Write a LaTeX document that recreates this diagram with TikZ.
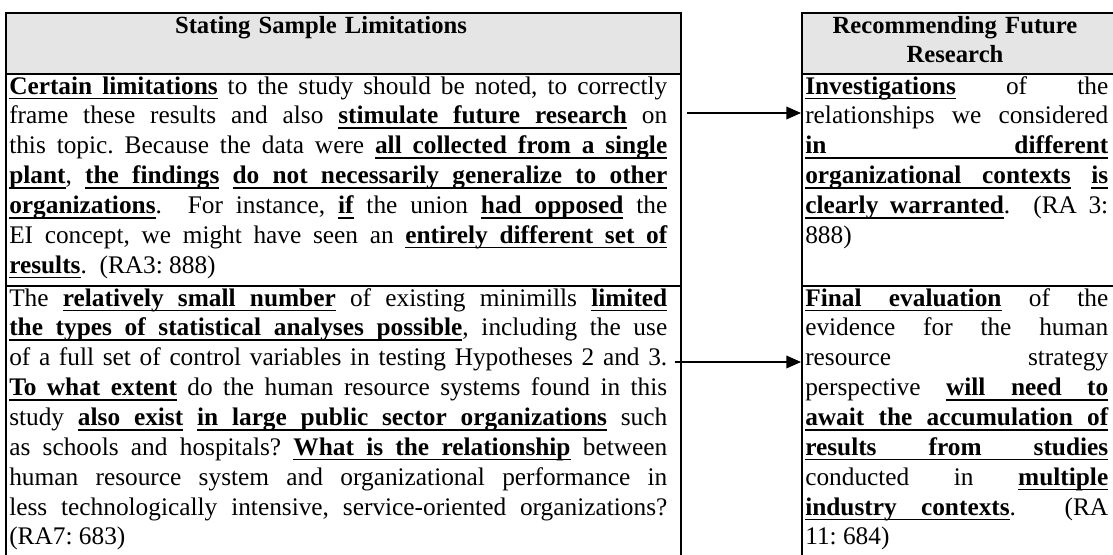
\documentclass[tikz,border=0pt]{standalone}
\usepackage{fontspec}
\setmainfont{Liberation Serif}
\usepackage{tikz}
\usetikzlibrary{arrows.meta, positioning}
\definecolor{hdrgray}{HTML}{E5E5E5}
\definecolor{rulegray}{HTML}{000000}
% underlined bold phrases whose gaps stretch with the justification
\newcommand{\ulword}[1]{\setbox0=\hbox{#1}\rlap{\vrule width\wd0 height -2.7pt depth 3.8pt}\box0}
\newcommand{\ulgap}{\leaders\hrule height -2.7pt depth 3.8pt\hskip\fontdimen2\font plus\fontdimen3\font minus\fontdimen4\font\relax}
\def\ubsplit#1 #2\ubend{\ulword{#1}\ifx\relax#2\relax\else\ulgap\ubsplit#2\ubend\fi}
\newcommand{\ub}[1]{{\bfseries\ubsplit#1 \ubend}}
\newcommand{\cellfont}{\fontsize{19pt}{22.4pt}\selectfont\frenchspacing\tolerance=10000 \hbadness=10000 \hyphenpenalty=10000 }
\newcommand{\headfont}{\fontsize{18.5pt}{21.8pt}\selectfont\bfseries}

\begin{document}
\begin{tikzpicture}[
    x=0.75pt, y=-0.75pt,
    cell/.style={draw=rulegray, line width=1.5pt, anchor=north west, inner sep=0pt},
    body/.style={anchor=base west, inner sep=0pt, text width=#1, align=justify, font=\cellfont},
    title/.style={anchor=base, inner sep=0pt, text width=#1, align=center, font=\headfont},
    link/.style={-{Triangle[length=11pt, width=9.5pt]}, line width=1.1pt, color=black}
]
\useasboundingbox (0,0) rectangle (1113,554);
\clip (0,0) rectangle (1113,554);

% Left table
\node[cell, fill=hdrgray, minimum width=506.25pt, minimum height=45.75pt] (lhead) at (5,12) {};
\node[cell, minimum width=506.25pt, minimum height=159pt] (lrow1) at (5,73) {};
\node[cell, minimum width=506.25pt, minimum height=236.25pt] (lrow2) at (5,285) {};

% Right table
\node[cell, fill=hdrgray, minimum width=234.75pt, minimum height=45.75pt] (rhead) at (801,12) {};
\node[cell, minimum width=234.75pt, minimum height=159pt] (rrow1) at (801,73) {};
\node[cell, minimum width=234.75pt, minimum height=236.25pt] (rrow2) at (801,285) {};

% Headings
\node[title=494.25pt] (ltitle) at (321,33) {Stating Sample Limitations};
\node[title=228pt] (rtitle) at (955,33) {Recommending Future\\Research};

% Quoted passages
\node[body=493.5pt] (ltext1) at (9,94) {\ub{Certain limitations} to the study should be noted, to correctly\linebreak
frame these results and also \ub{stimulate future research} on\linebreak
this topic. Because the data were \ub{all collected from a single}\linebreak
\ub{plant}, \ub{the findings} \ub{do not necessarily generalize to other}\linebreak
\ub{organizations}.\ \ For instance, \ub{if} the union \ub{had opposed} the\linebreak
EI concept, we might have seen an \ub{entirely different set of}\linebreak
\ub{results}.\ \ (RA3: 888)};

\node[body=493.5pt] (ltext2) at (9,306) {The \ub{relatively small number} of existing minimills \ub{limited}\linebreak
\ub{the types of statistical analyses possible}, including the use\linebreak
of a full set of control variables in testing Hypotheses 2 and 3.\linebreak
\ub{To what extent} do the human resource systems found in this\linebreak
study \ub{also exist} \ub{in large public sector organizations} such\linebreak
as schools and hospitals? \ub{What is the relationship} between\linebreak
human resource system and organizational performance in\linebreak
less technologically intensive, service-oriented organizations?\linebreak
(RA7: 683)};

\node[body=227.25pt] (rtext1) at (805,94) {\ub{Investigations} of the\linebreak
relationships we considered\linebreak
\ub{in different}\linebreak
\ub{organizational contexts} \ub{is}\linebreak
\ub{clearly warranted}.\ \ (RA 3:\linebreak
888)};

\node[body=227.25pt] (rtext2) at (805,306) {\ub{Final evaluation} of the\linebreak
evidence for the human\linebreak
resource strategy\linebreak
perspective \ub{will need to}\linebreak
\ub{await the accumulation of}\linebreak
\ub{results from studies}\linebreak
conducted in \ub{multiple}\linebreak
\ub{industry contexts}.\ \ (RA\linebreak
11: 684)};

% Links from limitations to recommendations
\coordinate (from1) at (687,113);
\coordinate (from2) at (675,362);
\draw[link] (from1) -- (from1 -| rrow1.west);
\draw[link] (from2) -- (from2 -| rrow2.west);

\end{tikzpicture}
\end{document}
